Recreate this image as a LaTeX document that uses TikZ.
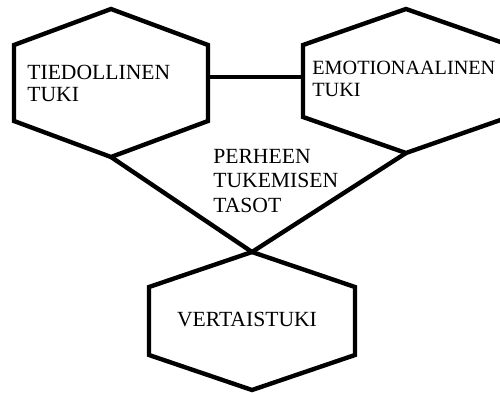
\documentclass[tikz,border=0pt]{standalone}
\usepackage{fontspec}
\setmainfont{Liberation Serif}
\usetikzlibrary{calc}

\tikzset{
  hexline/.style={line width=2.5pt},
  pics/hexa/.style n args={3}{code={
    \draw[hexline] (0,-#2) -- (#1,-#3) -- (#1,#3) -- (0,#2) -- (-#1,#3) -- (-#1,-#3) -- cycle;
    \coordinate (-top) at (0,-#2);
    \coordinate (-bot) at (0,#2);
    \coordinate (-ul) at (-#1,-#3);
    \coordinate (-ur) at (#1,-#3);
  }}
}

\begin{document}
\begin{tikzpicture}[x=0.02cm,y=-0.02cm]
        \useasboundingbox (0,0) rectangle (500,392);
        \clip (0,0) rectangle (500,392);
        \pic (lh) at (111,83) {hexa={97}{74}{38}};
        \pic (rh) at (406,81) {hexa={103}{72}{36}};
        \pic (bh) at (252,321) {hexa={103}{69}{34}};
        \begin{scope}[every node/.style={inner sep=0pt,align=left,font=\fontsize{12.3}{12.8}\selectfont}]
        \node[anchor=north west] (tieto) at (27,64.7) {TIEDOLLINEN\\TUKI};
        \node[anchor=north west,font=\fontsize{11.5}{12.8}\selectfont] (emo) at (312,60.5) {EMOTIONAALINEN\\TUKI};
        \node[anchor=north west,font=\fontsize{12.3}{14}\selectfont] (tasot) at (213,148.7) {PERHEEN\\TUKEMISEN\\TASOT};
        \node (vertais) at (247,319.8) {VERTAISTUKI};
        \end{scope}
        \coordinate (link) at (0,77);
        \draw[hexline] (lh-ur |- link) -- (rh-ul |- link);
        \draw[hexline] (lh-bot) -- (bh-top) -- (rh-bot);
    \end{tikzpicture}
\end{document}
